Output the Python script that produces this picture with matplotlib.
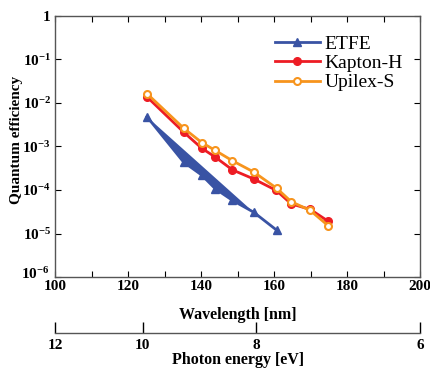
import matplotlib
matplotlib.use("Agg")
import matplotlib.pyplot as plt
import matplotlib.transforms as mtransforms

plt.rcParams['font.family'] = ['Liberation Serif', 'DejaVu Serif']
plt.rcParams['mathtext.fontset'] = 'custom'
plt.rcParams['mathtext.rm'] = 'Liberation Serif:weight=bold'
plt.rcParams['mathtext.bf'] = 'Liberation Serif:weight=bold'
plt.rcParams['mathtext.it'] = 'Liberation Serif:weight=bold'

# Data (wavelength in nm, quantum efficiency)
etfe_wl = [125.2, 135.2, 140.2, 143.9, 148.6, 154.4, 160.7]
etfe_qe = [4.8e-3, 4.4e-4, 2.2e-4, 1.07e-4, 5.8e-5, 3.1e-5, 1.2e-5]

kapton_wl = [125.1, 135.2, 140.2, 143.9, 148.6, 154.4, 160.6, 164.7, 169.9, 174.9]
kapton_qe = [1.4e-2, 2.15e-3, 9.1e-4, 5.7e-4, 2.9e-4, 1.8e-4, 9.8e-5, 4.8e-5, 3.6e-5, 1.9e-5]

upilex_wl = [125.3, 135.3, 140.2, 143.9, 148.6, 154.4, 160.7, 164.7, 169.9, 174.9]
upilex_qe = [1.6e-2, 2.6e-3, 1.23e-3, 8.1e-4, 4.7e-4, 2.6e-4, 1.1e-4, 5.4e-5, 3.4e-5, 1.5e-5]

x_ticks = [100, 120, 140, 160, 180, 200]
y_ticks = [1e-6, 1e-5, 1e-4, 1e-3, 1e-2, 1e-1, 1]
y_labels = [r'$\mathbf{10^{-6}}$', r'$\mathbf{10^{-5}}$', r'$\mathbf{10^{-4}}$',
            r'$\mathbf{10^{-3}}$', r'$\mathbf{10^{-2}}$', r'$\mathbf{10^{-1}}$', '1']

energy_labels = ['12', '10', '8', '6']
energy_pos_nm = [100, 124, 155, 200]

blue = '#3953a4'
red = '#ed1c24'
orange = '#f7941d'

fig = plt.figure(figsize=(4.3, 3.69), dpi=100)
ax = fig.add_axes([0.128, 0.249, 0.849, 0.708])

n_fill = 6
ax.fill(etfe_wl[:n_fill], etfe_qe[:n_fill], color=blue, lw=0, zorder=2)
ax.plot(etfe_wl, etfe_qe, color=blue, lw=2, marker='^', ms=6, label='ETFE', zorder=3)
ax.plot(kapton_wl, kapton_qe, color=red, lw=2, marker='o', ms=5.5, label='Kapton-H', zorder=4)
ax.plot(upilex_wl, upilex_qe, color=orange, lw=2, marker='o', ms=5, mfc='white',
        mec=orange, mew=1.5, label='Upilex-S', zorder=5)

ax.set_yscale('log')
ax.set_xlim(100, 200)
ax.set_ylim(1e-6, 1)
ax.set_xticks(x_ticks)
ax.set_xticks(range(110, 200, 20), minor=True)
ax.set_yticks(y_ticks)
ax.set_yticklabels(y_labels)
ax.yaxis.set_minor_locator(matplotlib.ticker.NullLocator())
ax.tick_params(which='both', direction='in', top=True, right=True, length=4,
               width=0.8, labelsize=11, pad=2)
ax.tick_params(axis='y', pad=3)
for lab in ax.get_xticklabels() + ax.get_yticklabels():
    lab.set_fontweight('bold')
# nudge the lowest y label up a little (as in the reference)
lowlab = ax.get_yticklabels()[0]
lowlab.set_transform(lowlab.get_transform() +
                     mtransforms.ScaledTranslation(-1 / 100, 5 / 100, fig.dpi_scale_trans))
for sp in ax.spines.values():
    sp.set_linewidth(1.0)
    sp.set_color('#555555')

ax.set_xlabel('Wavelength [nm]', fontsize=11.5, fontweight='bold', labelpad=10)
ax.set_ylabel('Quantum efficiency', fontsize=11, fontweight='bold')
ax.yaxis.set_label_coords(-0.088, 0.525)

leg = ax.legend(loc='upper right', bbox_to_anchor=(0.99, 0.977), frameon=False,
                fontsize=14, handlelength=2.3, handletextpad=0.25, labelspacing=0.08,
                borderpad=0.2)

ax2 = fig.add_axes([0.128, 0.0976, 0.849, 0.0001])
ax2.set_xlim(100, 200)
ax2.set_yticks([])
for s in ['top', 'left', 'right']:
    ax2.spines[s].set_visible(False)
ax2.spines['bottom'].set_linewidth(1.0)
ax2.spines['bottom'].set_color('#555555')
ax2.set_xticks(energy_pos_nm)
ax2.set_xticklabels(energy_labels, fontweight='bold')
ax2.tick_params(axis='x', direction='in', length=8, width=1.0, labelsize=11, pad=4)
ax2.set_xlabel('Photon energy [eV]', fontsize=11.5, fontweight='bold', labelpad=0)

fig.savefig('out.png', dpi=100)
